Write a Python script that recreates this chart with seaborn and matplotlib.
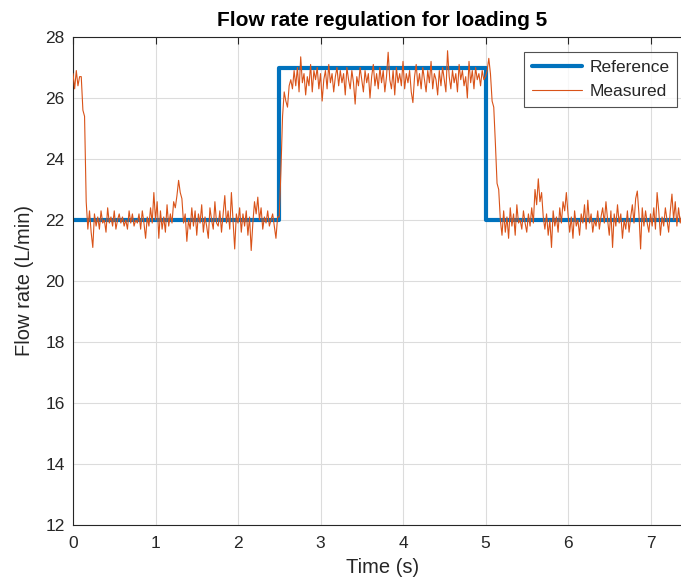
import numpy as np
import pandas as pd
import matplotlib
matplotlib.use("Agg")
import matplotlib.pyplot as plt
import seaborn as sns

# ---- data ----
dt = 0.02  # sample period (s)
measured = [
    26.8, 26.3, 26.9, 26.4, 26.7, 26.7, 25.6, 25.4, 22.6, 21.7,
    22.3, 21.6, 21.1, 22.2, 21.8, 22.1, 21.7, 22.3, 21.9, 22.0,
    21.6, 22.4, 21.9, 22.1, 21.8, 22.3, 21.7, 22.0, 22.2, 21.9,
    22.1, 21.8, 22.0, 21.7, 22.3, 21.9, 22.2, 21.8, 22.0, 21.9,
    22.2, 21.7, 22.3, 21.9, 21.4, 22.1, 21.8, 22.4, 21.9, 22.9,
    22.0, 22.6, 21.4, 22.3, 21.7, 22.1, 21.6, 22.5, 21.8, 22.2,
    21.9, 22.6, 22.4, 22.8, 23.3, 22.9, 22.7, 21.9, 22.2, 21.3,
    22.0, 21.7, 22.4, 21.8, 22.3, 21.5, 22.2, 21.9, 22.5, 21.6,
    22.1, 21.8, 21.4, 22.4, 22.0, 21.7, 22.6, 21.9, 21.8, 22.3,
    21.6, 22.2, 22.8, 21.9, 22.3, 21.7, 22.9, 22.0, 21.05, 22.2,
    21.9, 22.4, 21.6, 22.2, 21.8, 22.3, 21.5, 22.1, 21.0, 21.9,
    22.6, 22.2, 22.75, 22.0, 22.4, 21.7, 22.1, 21.9, 22.3, 21.8,
    22.0, 22.2, 21.8, 21.4, 22.1,
    22.1, 23.6, 25.4, 26.2, 25.9, 25.7, 26.4,
    26.6, 26.3, 26.9, 26.4, 27.0, 26.2, 27.35, 26.5, 26.8, 26.1,
    26.7, 26.4, 27.1, 26.2, 26.9, 26.6, 27.0, 26.3, 26.8, 25.9,
    26.6, 26.9, 26.3, 27.1, 26.5, 26.8, 26.2, 26.7, 27.0, 26.4,
    26.9, 26.5, 26.8, 26.1, 27.0, 26.6, 26.3, 26.9, 26.5, 25.8,
    26.7, 26.4, 27.0, 26.6, 26.2, 26.9, 26.5, 26.8, 26.0, 26.7,
    27.1, 26.4, 26.8, 26.3, 27.0, 26.5, 26.9, 26.2, 26.7, 27.5,
    26.6, 26.3, 26.9, 26.1, 27.0, 26.5, 26.8, 26.4, 27.2, 26.3,
    26.8, 26.5, 26.9, 26.2, 25.85, 26.7, 27.1, 26.4, 26.8, 26.3,
    27.0, 26.6, 26.2, 26.9, 26.5, 27.2, 26.3, 26.8, 26.6, 26.1,
    26.9, 26.4, 27.0, 26.6, 26.2, 27.55, 26.7, 26.3, 26.9, 26.5,
    26.8, 26.2, 27.1, 26.6, 26.9, 26.4, 26.7, 26.0, 27.2, 26.5,
    26.9, 26.3, 27.0, 26.6, 26.8, 26.4, 26.9, 26.6,
    26.7, 26.9, 27.3, 26.8, 25.9, 25.7, 24.5, 23.2, 23.0, 22.0, 21.5,
    22.3, 21.6, 22.1, 21.4, 22.4, 21.8, 22.2, 21.5, 22.5, 21.9,
    22.0, 21.7, 22.3, 21.9, 21.6, 22.2, 21.8, 22.4, 21.9, 23.0,
    22.5, 23.35, 22.6, 22.9, 22.1, 21.7, 22.2, 21.5, 22.0, 21.1,
    22.3, 21.8, 22.1, 21.6, 22.4, 21.9, 22.6, 22.3, 22.9, 22.2,
    21.6, 22.1, 21.4, 22.3, 21.8, 22.0, 21.5, 22.2, 21.9, 22.5,
    21.7, 22.65, 21.9, 22.2, 21.6, 22.0, 21.8, 22.3, 21.7, 22.1,
    22.4, 21.9, 22.6, 22.0, 21.5, 22.3, 21.1, 22.2, 21.8, 22.5,
    21.9, 22.2, 21.4, 22.0, 21.7, 22.3, 21.6, 22.1, 22.5, 21.9,
    22.7, 22.95, 22.2, 21.05, 22.4, 21.8, 22.3, 21.9, 21.6, 22.2,
    21.8, 22.4, 21.7, 22.9, 22.3, 21.5, 22.1, 21.8, 22.4, 22.0,
    21.6, 22.3, 22.85, 22.0, 22.6, 21.8, 22.4, 21.9, 22.2, 21.7,
]
ref_times = [0.0, 2.5, 5.0, 7.5]
ref_values = [22.0, 27.0, 22.0, 22.0]

x_ticks = [0, 1, 2, 3, 4, 5, 6, 7]
y_ticks = [12, 14, 16, 18, 20, 22, 24, 26, 28]

t = np.arange(len(measured)) * dt
df_meas = pd.DataFrame({"t": t, "v": measured})
df_ref = pd.DataFrame({"t": ref_times, "v": ref_values})

# ---- style ----
sns.set_style("white")
plt.rcParams["font.family"] = ["Liberation Sans", "DejaVu Sans"]

BLUE = "#0072BD"
ORANGE = "#D95319"
AX_COL = "#262626"

fig = plt.figure(figsize=(6.81, 5.83), dpi=100)
ax = fig.add_axes([73 / 681, 1 - 525 / 583, 618.75 / 681, 488 / 583])

sns.lineplot(data=df_ref, x="t", y="v", ax=ax, color=BLUE, linewidth=3.0,
             drawstyle="steps-post", label="Reference", zorder=2)
sns.lineplot(data=df_meas, x="t", y="v", ax=ax, color=ORANGE, linewidth=0.8,
             label="Measured", zorder=3)

ax.set_xlim(0, 7.5)
ax.set_ylim(12, 28)
ax.set_xticks(x_ticks)
ax.set_yticks(y_ticks)
ax.grid(True, color="#dcdcdc", linewidth=0.8)
ax.set_axisbelow(True)

for side in ["left", "bottom", "top", "right"]:
    ax.spines[side].set_color(AX_COL)
    ax.spines[side].set_linewidth(0.8)

ax.tick_params(direction="in", length=5, width=0.8, colors=AX_COL,
               labelsize=12.5, top=True, right=True)
ax.tick_params(axis="x", pad=8)
ax.tick_params(axis="y", pad=6)
for lab in ax.get_xticklabels() + ax.get_yticklabels():
    lab.set_color(AX_COL)

ax.set_xlabel("Time (s)", fontsize=14.5, color=AX_COL, labelpad=5)
ax.set_ylabel("Flow rate (L/min)", fontsize=14.5, color=AX_COL, labelpad=8)
ax.set_title("Flow rate regulation for loading 5", fontsize=15,
             fontweight="bold", color="black", pad=8)

leg = ax.legend(loc="upper left", bbox_to_anchor=(0.729, 0.969),
                borderaxespad=0, fontsize=12.5, frameon=True, fancybox=False,
                edgecolor=AX_COL, handlelength=2.9, handletextpad=0.4,
                borderpad=0.45, labelspacing=0.5)
leg.get_frame().set_linewidth(0.8)

fig.savefig("out.png", dpi=100)
